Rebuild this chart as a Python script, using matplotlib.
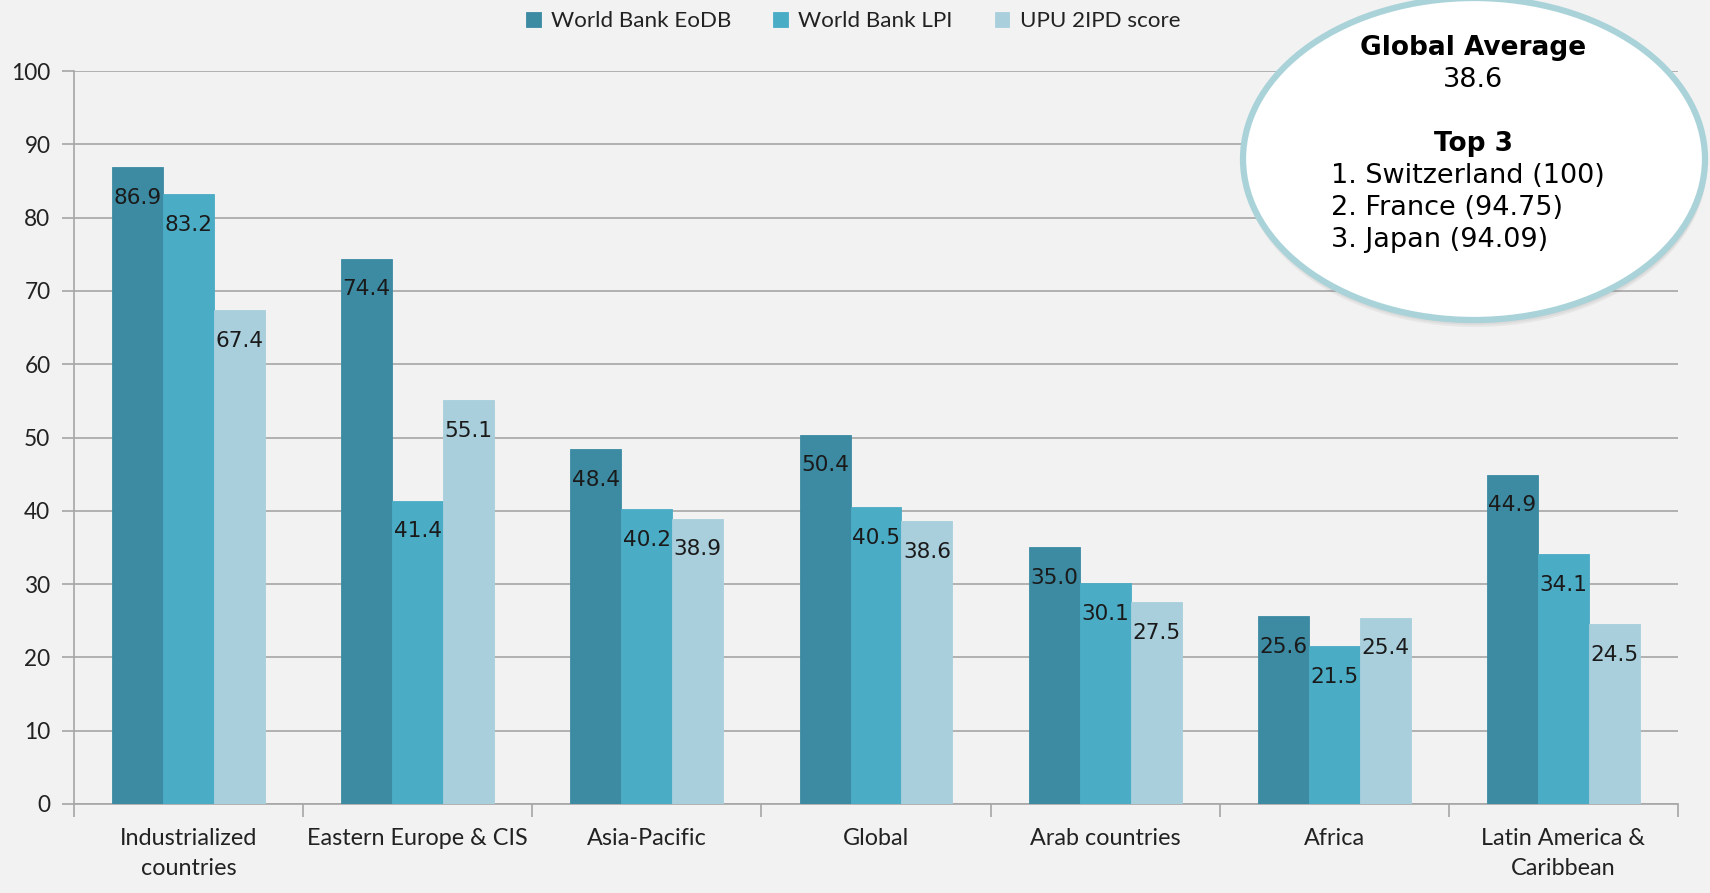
import matplotlib
matplotlib.use("Agg")
import matplotlib.pyplot as plt
from matplotlib.patches import Ellipse
import numpy as np

categories = ["Industrialized\ncountries", "Eastern Europe & CIS", "Asia-Pacific",
              "Global", "Arab countries", "Africa", "Latin America &\nCaribbean"]
series_names = ["World Bank EoDB", "World Bank LPI", "UPU 2IPD score"]
eodb = [86.9, 74.4, 48.4, 50.4, 35.0, 25.6, 44.9]
lpi = [83.2, 41.4, 40.2, 40.5, 30.1, 21.5, 34.1]
upu = [67.4, 55.1, 38.9, 38.6, 27.5, 25.4, 24.5]
colors = ["#3C8BA3", "#4BACC6", "#A9CFDD"]

global_avg = "38.6"
top3 = ["1. Switzerland (100)", "2. France (94.75)", "3. Japan (94.09)"]

W, H = 1710, 893
fig = plt.figure(figsize=(W / 100, H / 100), dpi=100, facecolor="#F2F2F2")
ax = fig.add_axes([74 / W, 89 / H, (1678 - 74) / W, (804 - 71) / H])
ax.set_facecolor("#F2F2F2")

label_font = "Lato"
value_font = "DejaVu Sans"

x = np.arange(len(categories))
bw = 1 / 4.5
handles = []
for i, (vals, name, c) in enumerate(zip([eodb, lpi, upu], series_names, colors)):
    pos = x + (i - 1) * bw
    bars = ax.bar(pos, vals, width=bw, color=c, edgecolor=c, linewidth=0.6,
                  label=name, zorder=3)
    handles.append(bars)
    for p, v in zip(pos, vals):
        ax.annotate(f"{v:.1f}", xy=(p, v), xytext=(0, -22),
                    textcoords="offset points", ha="center", va="center",
                    fontsize=15.6, family=value_font, color="#1a1a1a", zorder=4)

ax.set_xlim(-0.5, len(categories) - 0.5)
ax.set_ylim(0, 100)
ax.set_yticks(np.arange(0, 101, 10))
ax.yaxis.grid(True, color="#A6A6A6", linewidth=1.2, zorder=0)
ax.set_axisbelow(True)

ax.set_xticks(x)
ax.set_xticklabels(categories, family=label_font, fontsize=16.8, color="#222222",
                   linespacing=1.55)
ax.tick_params(axis="x", length=0, pad=17)
ax.set_xticks(np.arange(-0.5, len(categories), 1), minor=True)
ax.tick_params(axis="x", which="minor", length=9, color="#A6A6A6", width=1.2)
ax.tick_params(axis="y", length=9, color="#A6A6A6", width=1.2, pad=8,
               labelsize=16.3, labelcolor="#222222")
for lab in ax.get_yticklabels():
    lab.set_family(label_font)

for s in ["top", "right"]:
    ax.spines[s].set_visible(False)
for s in ["left", "bottom"]:
    ax.spines[s].set_color("#A6A6A6")
    ax.spines[s].set_linewidth(1.2)

leg = fig.legend(handles=handles, labels=series_names, loc="center",
                 bbox_to_anchor=(853 / W, 1 - 21 / H), ncol=3, frameon=False,
                 prop={"family": label_font, "size": 16.1},
                 handlelength=0.65, handleheight=0.65, handletextpad=0.45,
                 columnspacing=1.9)
for t in leg.get_texts():
    t.set_color("#222222")

# callout ellipse with a soft shadow
cx, cy, ew, eh = 1474 / W, 1 - 159 / H, 462 / W, 322 / H
for k, a in enumerate([0.10, 0.10, 0.10]):
    shadow = Ellipse((cx + 1 / W, cy - (3 + 2 * k) / H), ew + 2 / W, eh,
                     transform=fig.transFigure, facecolor="#808080", alpha=a,
                     edgecolor="none", zorder=5)
    fig.add_artist(shadow)
ell = Ellipse((cx, cy), ew, eh, transform=fig.transFigure, facecolor="white",
              edgecolor="#A9D3D9", linewidth=4.5, zorder=6)
fig.add_artist(ell)

tx = 1473 / W
fig.text(tx, 1 - 48 / H, "Global Average", ha="center", va="center",
         family=value_font, fontweight="bold", fontsize=19, zorder=7)
fig.text(tx, 1 - 80 / H, global_avg, ha="center", va="center",
         family=value_font, fontsize=19.5, zorder=7)
fig.text(tx, 1 - 144 / H, "Top 3", ha="center", va="center",
         family=value_font, fontweight="bold", fontsize=19, zorder=7)
for k, line in enumerate(top3):
    fig.text(1331 / W, 1 - (176 + 32 * k) / H, line, ha="left", va="center",
             family=value_font, fontsize=19.5, zorder=7)

fig.savefig("out.png", dpi=100, facecolor=fig.get_facecolor())
